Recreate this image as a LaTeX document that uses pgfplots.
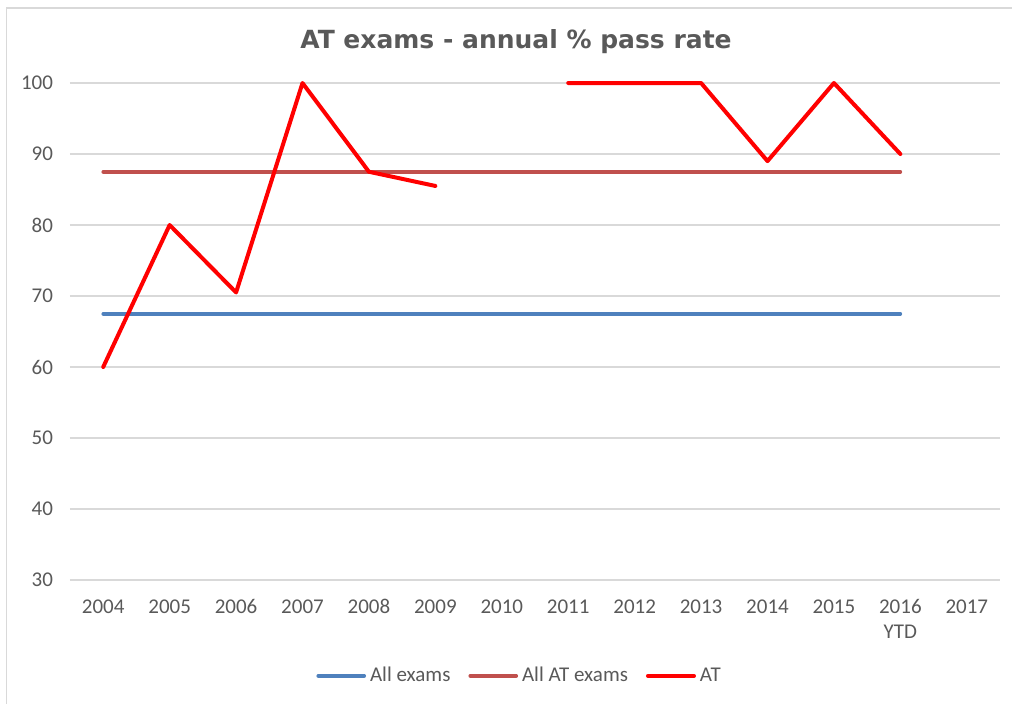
\documentclass[border=0pt]{standalone}
\usepackage{fontspec}
\setmainfont{Carlito}
\newfontfamily\titlefont{DejaVu Sans}
\usepackage{pgfplots}
\pgfplotsset{compat=1.18}
\definecolor{txtgray}{HTML}{595959}
\definecolor{gridgray}{HTML}{D9D9D9}
\definecolor{bordergray}{HTML}{D9D9D9}
\definecolor{allblue}{HTML}{4F81BD}
\definecolor{atdark}{HTML}{C0504D}
\definecolor{atred}{HTML}{FF0000}
\begin{document}
\begin{tikzpicture}
\useasboundingbox (0,0) rectangle (506pt,351.5pt);
\draw[bordergray, line width=0.7pt] (3.25pt,-5pt) rectangle (512pt,347.5pt);
\node[font=\titlefont\bfseries\fontsize{12.5}{14}\selectfont, text=txtgray] at (258pt,330.5pt) {AT exams - annual \% pass rate};
\begin{axis}[
  at={(35pt,61.5pt)}, anchor=south west,
  scale only axis, width=465pt, height=248.5pt,
  xmin=-0.5, xmax=13.5, ymin=30, ymax=100,
  ytick={30,40,...,100},
  xtick={0,...,13},
  xticklabels={{\strut 2004},{\strut 2005},{\strut 2006},{\strut 2007},{\strut 2008},{\strut 2009},{\strut 2010},{\strut 2011},{\strut 2012},{\strut 2013},{\strut 2014},{\strut 2015},{\strut 2016\\YTD},{\strut 2017}},
  xticklabel style={align=center, text=txtgray, font=\fontsize{10.5}{12.5}\selectfont, yshift=-4.5pt},
  yticklabel style={text=txtgray, font=\fontsize{10.5}{12}\selectfont, xshift=-5pt},
  /pgf/number format/assume math mode=true,
  axis line style={draw=none},
  tick style={draw=none},
  ymajorgrids, grid style={gridgray, line width=0.6pt},
  clip=false,
  unbounded coords=jump,
  legend columns=3,
  legend style={at={(0.4845,-0.193)}, anchor=center, draw=none, fill=none,
    font=\fontsize{10.5}{12}\selectfont, text=txtgray,
    /tikz/every even column/.append style={column sep=7pt},
    inner sep=0pt},
  legend image code/.code={\draw[#1, line cap=round] (0pt,0pt) -- (23pt,0pt);},
  every axis plot/.append style={line join=round, line cap=round},
]
\addplot[allblue, line width=1.8pt] coordinates {(0,67.5) (1,67.5) (2,67.5) (3,67.5) (4,67.5) (5,67.5) (6,67.5) (7,67.5) (8,67.5) (9,67.5) (10,67.5) (11,67.5) (12,67.5)};
\addlegendentry{All exams}
\addplot[atdark, line width=1.8pt] coordinates {(0,87.5) (1,87.5) (2,87.5) (3,87.5) (4,87.5) (5,87.5) (6,87.5) (7,87.5) (8,87.5) (9,87.5) (10,87.5) (11,87.5) (12,87.5)};
\addlegendentry{All AT exams}
\addplot[atred, line width=2pt] coordinates {(0,60) (1,80) (2,70.5) (3,100) (4,87.5) (5,85.5) (6,nan) (7,100) (8,100) (9,100) (10,89) (11,100) (12,90)};
\addlegendentry{AT}
\end{axis}
\end{tikzpicture}
\end{document}
